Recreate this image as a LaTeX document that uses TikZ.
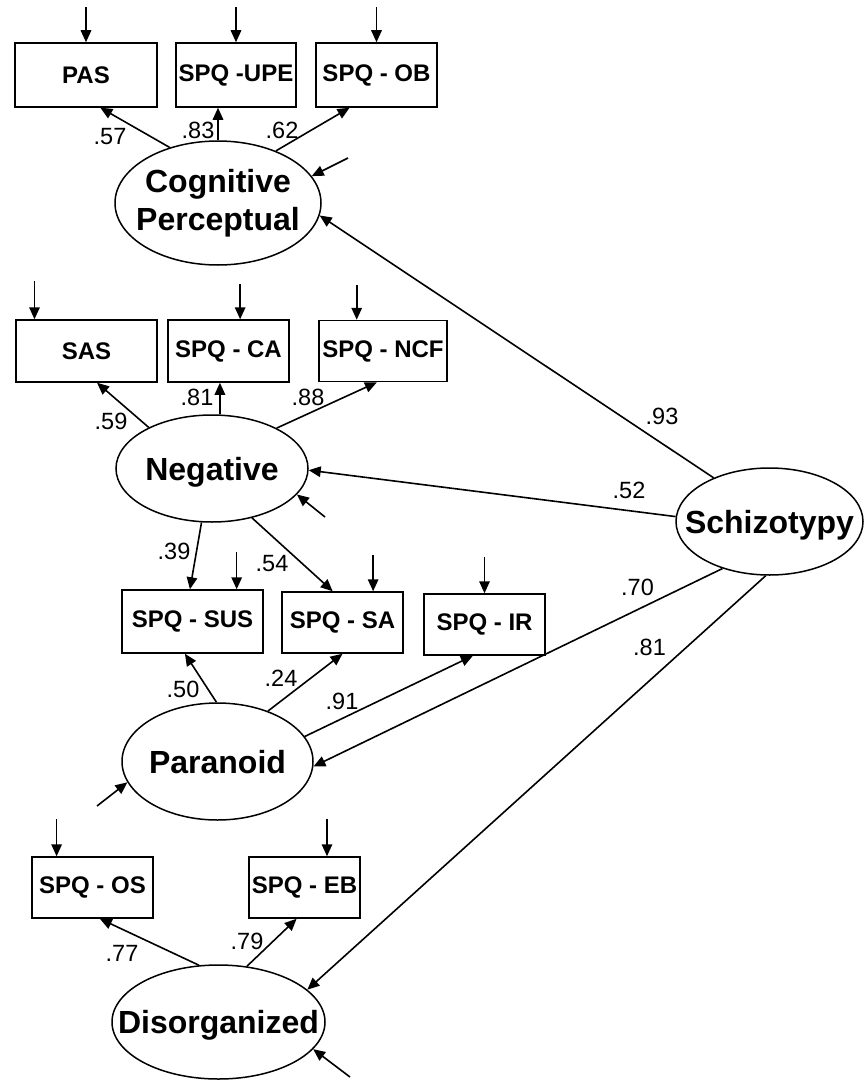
\documentclass[tikz,border=0pt]{standalone}
\usepackage{fontspec}
\setmainfont{Liberation Sans}
\usetikzlibrary{arrows.meta,calc,shapes.geometric}
\begin{document}
\begin{tikzpicture}[x=1pt,y=-1pt,
 obs/.style={draw, line width=1.5pt, rectangle, inner sep=0pt, font=\bfseries\fontsize{24}{26}\selectfont, minimum height=62pt},
 lat/.style={draw, ellipse, inner sep=0pt, line width=1.5pt},
 lattxt/.style={font=\bfseries\fontsize{32}{38}\selectfont, align=center, inner sep=0pt},
 onetxt/.style={font=\bfseries\fontsize{32}{38}\selectfont, inner sep=0pt, text height=23pt, text depth=0pt},
 arr/.style={-{Triangle[length=12pt,width=10.5pt]}, line width=1.6pt},
 coef/.style={font=\fontsize{23.5}{26}\selectfont, inner sep=0pt}]
\useasboundingbox (0,0) rectangle (864,1081);

% observed variables
\node[obs, minimum width=142pt, minimum height=64pt] (pas) at (86,75) {PAS};
\node[obs, minimum width=120pt, minimum height=64pt] (upe) at (236,75) {SPQ -UPE};
\node[obs, minimum width=121pt, minimum height=64pt] (ob) at (376.5,75) {SPQ - OB};
\node[obs, minimum width=141pt] (sas) at (86.5,351) {SAS};
\node[obs, minimum width=121pt] (ca) at (228.5,351) {SPQ - CA};
\node[obs, minimum width=128pt, minimum height=61pt] (ncf) at (383,351) {SPQ - NCF};
\node[obs, minimum width=141pt, minimum height=63pt] (sus) at (192.5,621.5) {SPQ - SUS};
\node[obs, minimum width=121pt, minimum height=61pt] (sa) at (342.5,622.5) {SPQ - SA};
\node[obs, minimum width=121pt, minimum height=61pt] (ir) at (484.5,624.5) {SPQ - IR};
\node[obs, minimum width=121pt, minimum height=61pt] (os) at (92.5,887.5) {SPQ - OS};
\node[obs, minimum width=111pt, minimum height=61pt] (eb) at (304.5,887.5) {SPQ - EB};

% latent variables
\node[lat, minimum width=206pt, minimum height=124pt, label={[lattxt]center:Cognitive\\Perceptual}] (cog) at (218,203) {};
\node[lat, minimum width=192pt, minimum height=107pt, label={[onetxt]center:Negative}] (neg) at (212,468.5) {};
\node[lat, minimum width=191pt, minimum height=117pt, label={[onetxt]center:Paranoid}] (par) at (217.5,761.5) {};
\node[lat, minimum width=213pt, minimum height=114pt, label={[onetxt]center:Disorganized}] (dis) at (218.5,1022) {};
\node[lat, minimum width=187pt, minimum height=107pt, label={[onetxt]center:Schizotypy}] (sch) at (769.5,521.5) {};

% error arrows on observed variables
\foreach \b/\f/\l in {pas/0.5/35, upe/0.5/35, ob/0.5/35, sas/0.135/38, ca/0.595/35, ncf/0.297/35, sus/0.81/37, sa/0.75/36, ir/0.5/36, os/0.207/37, eb/0.70/37} {
  \coordinate (\b-t) at ($(\b.north west)!\f!(\b.north east)$);
  \coordinate (\b-r) at ($(\b-t)+(0,-\l)$);
  \draw[arr] (\b-r) -- (\b-t);
}

% Cognitive Perceptual
\draw[arr] (cog.131) -- ($(pas.south west)!0.6!(pas.south east)$);
\draw[arr] (cog.north) -- (cog.north |- upe.south);
\draw[arr] (cog.42) -- ($(ob.south west)!0.28!(ob.south east)$);
\coordinate (rcog) at (348,158);
\draw[arr] (rcog) -- (cog.16);
\draw[arr] (sch.142.6) -- (cog.-7);

% Negative
\draw[arr] (neg.147) -- ($(sas.south west)!0.574!(sas.south east)$);
\coordinate (nca) at ($(ca.south west)!0.43!(ca.south east)$);
\draw[arr] (nca |- neg.north) -- (nca);
\draw[arr] (neg.32.6) -- ($(ncf.south west)!0.453!(ncf.south east)$);
\draw[arr] (sch.177.2) -- (neg.-1);
\coordinate (rneg) at (325,517);
\draw[arr] (rneg) -- (neg.-17.3);
\draw[arr] (neg.259.5) -- ($(sus.north west)!0.482!(sus.north east)$);
\draw[arr] (neg.-51.6) -- ($(sa.north west)!0.42!(sa.north east)$);

% Paranoid
\draw[arr] (par.91.5) -- ($(sus.south west)!0.447!(sus.south east)$);
\draw[arr] (par.45.5) -- ($(sa.south west)!0.5!(sa.south east)$);
\draw[arr] (par.16.5) -- ($(ir.south west)!0.405!(ir.south east)$);
\draw[arr] (sch.225.6) -- (par.-3.7);
\coordinate (rpar) at (97,806);
\draw[arr] (rpar) -- (par.193.5);

% Disorganized
\draw[arr] (dis.109.8) -- ($(os.south west)!0.56!(os.south east)$);
\draw[arr] (dis.63.4) -- ($(eb.south west)!0.43!(eb.south east)$);
\draw[arr] (sch.266.4) -- (dis.20.7);
\coordinate (rdis) at (350,1077);
\draw[arr] (rdis) -- (dis.-16.5);

% coefficients
\node[coef] at (110,137) {.57};
\node[coef] at (198,130) {.83};
\node[coef] at (282,130) {.62};
\node[coef] at (111,421) {.59};
\node[coef] at (197,397) {.81};
\node[coef] at (308,397) {.88};
\node[coef] at (662,416) {.93};
\node[coef] at (629,490) {.52};
\node[coef] at (637.5,587) {.70};
\node[coef] at (649.5,647.5) {.81};
\node[coef] at (174,551) {.39};
\node[coef] at (272,564) {.54};
\node[coef] at (183,689) {.50};
\node[coef] at (281,678) {.24};
\node[coef] at (342,701) {.91};
\node[coef] at (122,953) {.77};
\node[coef] at (247,941) {.79};
\end{tikzpicture}
\end{document}
